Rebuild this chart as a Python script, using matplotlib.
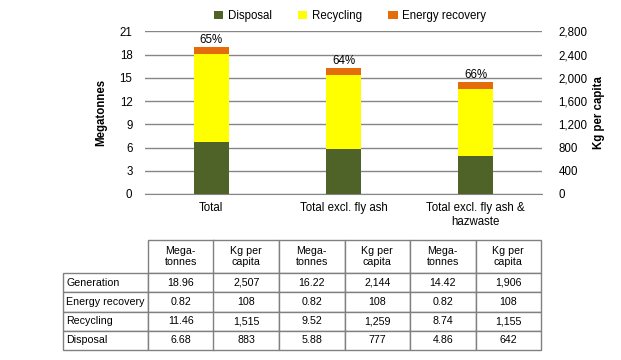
import matplotlib
matplotlib.use("Agg")
import matplotlib.pyplot as plt
import numpy as np

categories = ["Total", "Total excl. fly ash", "Total excl. fly ash &\nhazwaste"]
disposal = [6.68, 5.88, 4.86]
recycling = [11.46, 9.52, 8.74]
energy = [0.82, 0.82, 0.82]
pct_labels = ["65%", "64%", "66%"]

left_ticks = [0, 3, 6, 9, 12, 15, 18, 21]
right_ticks = [0, 400, 800, 1200, 1600, 2000, 2400, 2800]

table_header = ["", "Mega-\ntonnes", "Kg per\ncapita", "Mega-\ntonnes", "Kg per\ncapita", "Mega-\ntonnes", "Kg per\ncapita"]
row_labels = ["Generation", "Energy recovery", "Recycling", "Disposal"]
table_values = [
    ["18.96", "2,507", "16.22", "2,144", "14.42", "1,906"],
    ["0.82", "108", "0.82", "108", "0.82", "108"],
    ["11.46", "1,515", "9.52", "1,259", "8.74", "1,155"],
    ["6.68", "883", "5.88", "777", "4.86", "642"],
]

plt.rcParams['font.family'] = ['Liberation Sans', 'DejaVu Sans']
FS = 8.3
TFS = 7.7
W, H = 621, 360
fig = plt.figure(figsize=(W/100, H/100), dpi=100)

ax = fig.add_axes([145/W, 1-194/H, (542-145)/W, (194-31.5)/H])
x = np.arange(len(categories))
bw = 0.265
c_disp, c_rec, c_en = "#4F6228", "#FFFF00", "#E46C0A"
ax.bar(x, disposal, bw, color=c_disp, label="Disposal", zorder=3)
ax.bar(x, recycling, bw, bottom=disposal, color=c_rec, label="Recycling", zorder=3)
bot2 = np.array(disposal) + np.array(recycling)
ax.bar(x, energy, bw, bottom=bot2, color=c_en, label="Energy recovery", zorder=3)
tops = bot2 + np.array(energy)
for xi, t, lab in zip(x, tops, pct_labels):
    ax.text(xi, t + 0.15, lab, ha="center", va="bottom", fontsize=FS, color="black")

ax.set_xlim(-0.5, 2.5)
ax.set_ylim(0, 21)
ax.set_yticks(left_ticks)
ax.set_yticklabels([str(v) for v in left_ticks], fontsize=FS)
ax.set_xticks(x)
ax.set_xticklabels(categories, fontsize=FS)
ax.tick_params(axis="both", length=0, pad=9)
ax.tick_params(axis="x", pad=6)
ax.yaxis.grid(True, color="#868686", linewidth=1, zorder=0)
for s in ["top", "left", "right"]:
    ax.spines[s].set_visible(False)
ax.spines["bottom"].set_color("#868686")
ax.set_ylabel("Megatonnes", fontsize=FS, fontweight="bold", labelpad=9)

ax2 = ax.twinx()
ax2.set_ylim(0, 2800)
ax2.set_yticks(right_ticks)
ax2.set_yticklabels([f"{v:,}" for v in right_ticks], fontsize=FS)
ax2.tick_params(axis="y", length=0, pad=12)
for s in ["top", "left", "right", "bottom"]:
    ax2.spines[s].set_visible(False)
ax2.set_ylabel("Kg per capita", fontsize=FS, fontweight="bold", labelpad=4)

handles, labels = ax.get_legend_handles_labels()
fig.legend(handles, labels, loc="center", bbox_to_anchor=(350/W, 1-16/H), ncol=3,
           frameon=False, fontsize=FS, handlelength=0.8, handleheight=0.8,
           columnspacing=2.3, handletextpad=0.4)

# Table
tax = fig.add_axes([0, 0, 1, 1])
tax.axis("off")
cell_text = [table_header] + [[rl] + vals for rl, vals in zip(row_labels, table_values)]
col_w = [85] + [65.5]*6
tbl = tax.table(cellText=cell_text, cellLoc="center",
                bbox=[63/W, 1-350/H, 478/W, 110/H])
tbl.auto_set_font_size(False)
tbl.set_fontsize(TFS)
for (r, c), cell in tbl.get_celld().items():
    cell.set_edgecolor("#808080")
    cell.set_linewidth(1)
    cell.set_width(col_w[c])
    cell.set_height(33 if r == 0 else 19.25)
    if c == 0:
        cell.get_text().set_ha("left")
        cell._loc = "left"
        cell.PAD = 0.04
    if r == 0 and c == 0:
        cell.visible_edges = ""

fig.savefig("out.png", dpi=100)
